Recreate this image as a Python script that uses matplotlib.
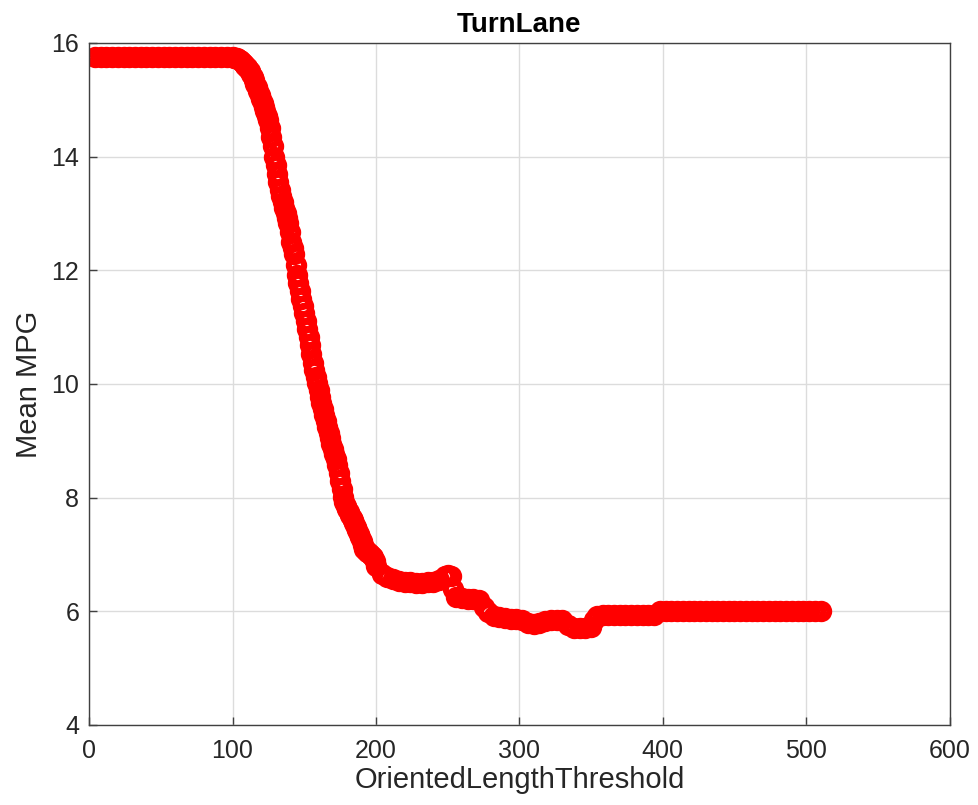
import matplotlib
matplotlib.use("Agg")
import matplotlib.pyplot as plt

# threshold values (denser where the curve falls steeply)
flat_x = [4, 8, 12, 16, 20, 24, 28, 32, 36, 40, 44, 48, 52, 56, 60, 64, 68, 72, 76, 80, 84, 88, 92, 96]
flat_y = [15.75] * len(flat_x)

drop_x = [100, 101, 102, 103, 104, 105, 106, 107, 108, 109, 110, 111, 112, 113, 114, 115, 116, 117, 118, 119,
          120, 121, 122, 123, 124, 125, 126, 127, 128, 129, 130, 131, 132, 133, 134, 135, 136, 137, 138, 139,
          140, 141, 142, 143, 144, 145, 146, 147, 148, 149, 150, 151, 152, 153, 154, 155, 156, 157, 158, 159,
          160, 161, 162, 163, 164, 165, 166, 167, 168, 169, 170, 171, 172, 173, 174, 175, 176, 177, 178, 179,
          180, 181, 182, 183, 184, 185, 186, 187, 188, 189, 190, 191, 192, 193, 194, 195, 196, 197, 198, 199, 200]
drop_y = [15.75, 15.74, 15.74, 15.73, 15.71, 15.70, 15.68, 15.65, 15.63, 15.60, 15.57, 15.54, 15.50, 15.45, 15.40,
          15.35, 15.28, 15.22, 15.15, 15.08, 15.02, 14.95, 14.87, 14.80, 14.72, 14.64, 14.50, 14.35, 14.18, 14.00,
          13.85, 13.70, 13.55, 13.41, 13.30, 13.20, 13.10, 13.01, 12.92, 12.83, 12.67, 12.50, 12.40, 12.28, 12.10,
          11.92, 11.78, 11.63, 11.50, 11.38, 11.25, 11.11, 10.97, 10.83, 10.68, 10.52, 10.37, 10.25, 10.13, 10.01,
          9.89, 9.77, 9.66, 9.56, 9.45, 9.35, 9.24, 9.14, 9.05, 8.95, 8.86, 8.77, 8.68, 8.58, 8.44,
          8.30, 8.15, 8.01, 7.93, 7.86, 7.80, 7.75, 7.70, 7.65, 7.60, 7.55, 7.49, 7.43, 7.36, 7.30,
          7.23, 7.16, 7.10, 7.08, 7.05, 7.03, 7.00, 6.97, 6.95, 6.88, 6.80]

tail_x = [204, 208, 212, 216, 220, 224, 228, 232, 236, 240, 244, 248, 250, 252, 254, 256, 260, 264, 268, 272,
          275, 278, 282, 286, 290, 294, 298, 302, 306, 310, 314, 318, 322, 326, 330, 334, 338, 342, 346, 350,
          352, 354, 358, 362, 366, 370, 374, 378, 382, 386, 390, 394, 398, 402, 406, 410, 414, 418, 422, 426,
          430, 434, 438, 442, 446, 450, 454, 458, 462, 466, 470, 474, 478, 482, 486, 490, 494, 498, 502, 506, 510]
tail_y = [6.66, 6.60, 6.57, 6.54, 6.52, 6.51, 6.50, 6.50, 6.51, 6.52, 6.55, 6.62, 6.64, 6.62, 6.40, 6.25, 6.24,
          6.22, 6.21, 6.20, 6.08, 5.98, 5.92, 5.90, 5.88, 5.87, 5.86, 5.84, 5.80, 5.78, 5.80, 5.83, 5.85, 5.85,
          5.84, 5.76, 5.71, 5.70, 5.70, 5.72, 5.85, 5.92, 5.94, 5.94, 5.94, 5.94, 5.94, 5.94, 5.94, 5.94, 5.94,
          5.94, 6.00, 6.00, 6.00, 6.00, 6.00, 6.00, 6.00, 6.00, 6.00, 6.00, 6.00, 6.00, 6.00, 6.00, 6.00, 6.00,
          6.00, 6.00, 6.00, 6.00, 6.00, 6.00, 6.00, 6.00, 6.00, 6.00, 6.00, 6.00, 6.00]

threshold = flat_x + drop_x + tail_x
mean_mpg = flat_y + drop_y + tail_y

plt.rcParams["font.family"] = ["Liberation Sans", "DejaVu Sans"]

fig = plt.figure(figsize=(9.79, 8.05), dpi=100)
ax = fig.add_axes([0.091, 0.0994, 0.879, 0.8472])

# open circles with a fat edge, like MATLAB 'ro' with a big LineWidth
ax.plot(threshold, mean_mpg, linestyle="none", marker="o", color=(1, 0, 0),
        markerfacecolor="none", markersize=11, markeredgewidth=4.4)

ax.set_xlim(0, 600)
ax.set_ylim(4, 16)
ax.set_xticks([0, 100, 200, 300, 400, 500, 600])
ax.set_yticks([4, 6, 8, 10, 12, 14, 16])
ax.grid(True, color="#dcdcdc", linewidth=1)
ax.set_axisbelow(True)
ax.tick_params(direction="in", length=6, width=1, colors="#404040", labelcolor="#262626",
               labelsize=18)
ax.tick_params(axis="x", pad=10)
ax.tick_params(axis="y", pad=7)
for s in ax.spines.values():
    s.set_color("#404040")
    s.set_linewidth(1)

ax.set_title("TurnLane", fontsize=20, fontweight="bold", pad=8)
ax.set_xlabel("OrientedLengthThreshold", fontsize=21, color="#262626", labelpad=2)
ax.set_ylabel("Mean MPG", fontsize=21, color="#262626", labelpad=6)

fig.savefig("out.png", dpi=100)
